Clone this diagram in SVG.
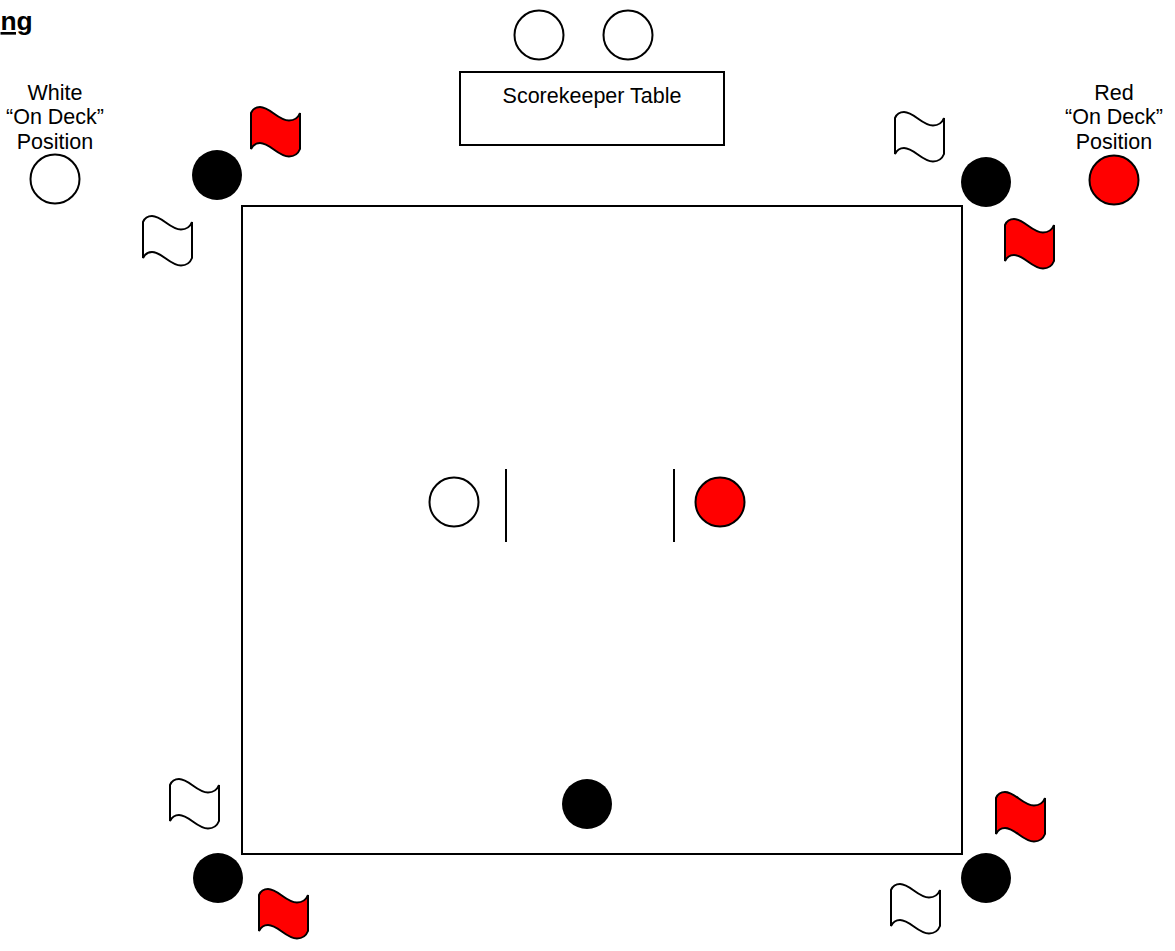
<svg xmlns="http://www.w3.org/2000/svg" width="1175" height="951" viewBox="0 0 1175 951">
<style>
text{font-family:"Liberation Sans",Arial,sans-serif;font-size:21.5px;fill:#000;text-anchor:middle}
.title{font-size:26.4px;font-weight:bold;text-decoration:underline;text-decoration-skip-ink:none;text-anchor:start}
.s{stroke:#000;stroke-width:2}
.w{fill:#fff}.r{fill:#f00}.k{fill:#000}
</style>
<defs>
<path id="flag" d="M0,0C1.500,-3.500 5,-6 9,-6C19,-6 27,7.500 38,7.500C42.500,7.500 47,5 49,0V36C47,41 42.500,43.500 38,43.500C27,43.500 19,30 9,30C5,30 2,32 0,36Z"/>
</defs>
<rect width="1175" height="951" fill="#fff"/>
<text class="title" x="0.500" y="30">ng</text>
<g id="field"><rect class="s" x="242" y="206" width="720" height="648" fill="none"/></g>
<g id="table"><rect class="s w" x="460" y="72" width="264" height="73"/><text x="592" y="103">Scorekeeper Table</text></g>
<g id="seat-1"><circle class="s w" cx="539" cy="35" r="24.500"/></g>
<g id="seat-2"><circle class="s w" cx="628" cy="35" r="24.500"/></g>
<g id="white-on-deck"><text x="55" y="99.500">White</text><text x="55" y="124">“On Deck”</text><text x="55" y="148.500">Position</text><circle class="s w" cx="55" cy="179" r="24.500"/></g>
<g id="red-on-deck"><text x="1114" y="99.500">Red</text><text x="1114" y="124">“On Deck”</text><text x="1114" y="148.500">Position</text><circle class="s r" cx="1114" cy="180" r="24.500"/></g>
<g id="judge-tl"><circle class="k" cx="217" cy="175" r="25"/></g>
<g id="judge-tr"><circle class="k" cx="986" cy="182" r="25"/></g>
<g id="judge-bl"><circle class="k" cx="218" cy="878" r="25"/></g>
<g id="judge-br"><circle class="k" cx="986" cy="878" r="25"/></g>
<g id="referee"><circle class="k" cx="587" cy="804" r="25"/></g>
<g id="flag-red-tl"><use href="#flag" class="s r" x="251" y="113"/></g>
<g id="flag-white-tl"><use href="#flag" class="s w" x="143" y="222"/></g>
<g id="flag-white-tr"><use href="#flag" class="s w" x="895" y="118"/></g>
<g id="flag-red-tr"><use href="#flag" class="s r" x="1005" y="225"/></g>
<g id="flag-white-bl"><use href="#flag" class="s w" x="170" y="785"/></g>
<g id="flag-red-bl"><use href="#flag" class="s r" x="259" y="895"/></g>
<g id="flag-red-br"><use href="#flag" class="s r" x="996" y="798"/></g>
<g id="flag-white-br"><use href="#flag" class="s w" x="891" y="890"/></g>
<g id="white-competitor"><circle class="s w" cx="454" cy="502" r="24.500"/></g>
<g id="red-competitor"><circle class="s r" cx="720" cy="502" r="24.500"/></g>
<g id="connectors"><line class="s" x1="506" y1="469" x2="506" y2="542"/><line class="s" x1="674" y1="469" x2="674" y2="542"/></g>
</svg>
